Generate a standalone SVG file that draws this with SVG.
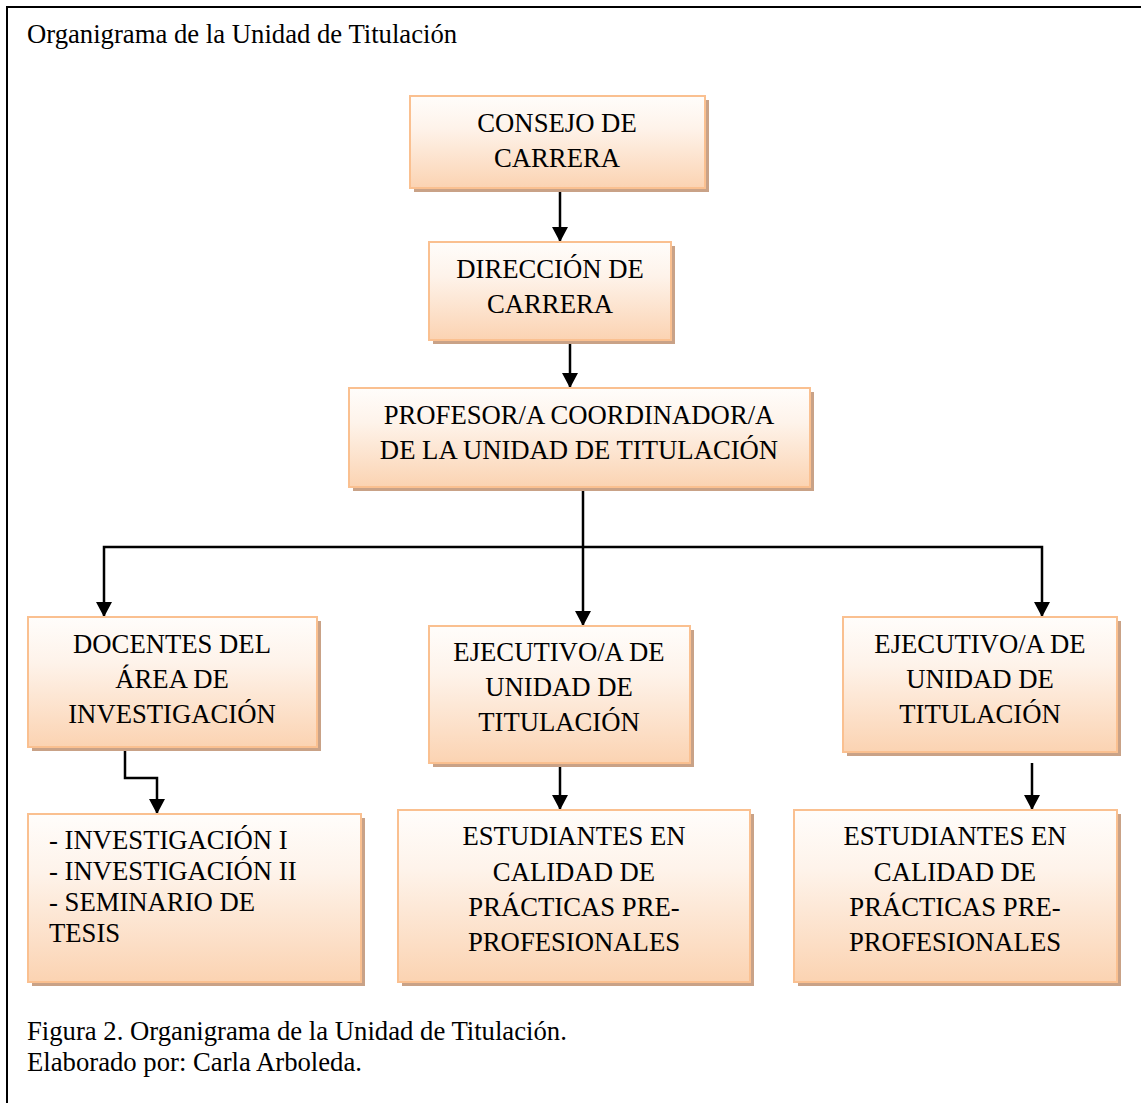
<svg xmlns="http://www.w3.org/2000/svg" width="1141" height="1103" viewBox="0 0 1141 1103">
<defs>
<linearGradient id="g" x1="0" y1="0" x2="0" y2="1">
<stop offset="0" stop-color="#fffdfb"/>
<stop offset="0.35" stop-color="#fef3ea"/>
<stop offset="1" stop-color="#fbd3b2"/>
</linearGradient>
<marker id="ah" markerUnits="userSpaceOnUse" markerWidth="15" markerHeight="16" refX="15" refY="8" orient="auto-start-reverse" viewBox="0 0 15 16">
<path d="M0,0 L15,8 L0,16 Z" fill="#000"/>
</marker>
</defs>
<style>
.sh{fill:#c9a287;}
.bx{fill:url(#g);stroke:#fac090;stroke-width:2;}
.t{font-family:"Liberation Serif","Times New Roman",serif;font-size:26.7px;fill:#000;text-anchor:middle;}
.tl{font-family:"Liberation Serif","Times New Roman",serif;font-size:26.7px;fill:#000;}
.cap{font-family:"Liberation Serif","Times New Roman",serif;font-size:26.7px;fill:#000;}
.c{stroke:#000;stroke-width:2.5;fill:none;}
</style>
<rect x="0" y="0" width="1141" height="1103" fill="#fff"/>
<rect x="7" y="7" width="1160" height="1120" fill="none" stroke="#000" stroke-width="2"/>
<text class="cap" x="27" y="43">Organigrama de la Unidad de Titulación</text>

<g id="connectors">
<line class="c" x1="560" y1="189" x2="560" y2="242" marker-end="url(#ah)"/>
<line class="c" x1="570" y1="341" x2="570" y2="388" marker-end="url(#ah)"/>
<line class="c" x1="583" y1="488" x2="583" y2="626" marker-end="url(#ah)"/>
<polyline class="c" points="104,617 104,547 1042,547 1042,617" marker-start="url(#ah)" marker-end="url(#ah)"/>
<polyline class="c" points="125,748 125,778 157,778 157,814" marker-end="url(#ah)"/>
<line class="c" x1="560" y1="764" x2="560" y2="810" marker-end="url(#ah)"/>
<line class="c" x1="1032" y1="763" x2="1032" y2="810" marker-end="url(#ah)"/>
</g>

<g id="consejo">
<rect class="sh" x="414" y="100" width="295" height="92"/>
<rect class="bx" x="410" y="96" width="295" height="92"/>
<text class="t" x="557" y="132">CONSEJO DE</text>
<text class="t" x="557" y="167">CARRERA</text>
</g>
<g id="direccion">
<rect class="sh" x="433" y="246" width="242" height="98"/>
<rect class="bx" x="429" y="242" width="242" height="98"/>
<text class="t" x="550" y="278">DIRECCIÓN DE</text>
<text class="t" x="550" y="313">CARRERA</text>
</g>
<g id="coordinador">
<rect class="sh" x="353" y="392" width="461" height="99"/>
<rect class="bx" x="349" y="388" width="461" height="99"/>
<text class="t" x="579" y="424">PROFESOR/A COORDINADOR/A</text>
<text class="t" x="579" y="459">DE LA UNIDAD DE TITULACIÓN</text>
</g>
<g id="docentes">
<rect class="sh" x="32" y="621" width="289" height="130"/>
<rect class="bx" x="28" y="617" width="289" height="130"/>
<text class="t" x="172" y="653">DOCENTES DEL</text>
<text class="t" x="172" y="688">ÁREA DE</text>
<text class="t" x="172" y="723">INVESTIGACIÓN</text>
</g>
<g id="ejecutivo1">
<rect class="sh" x="433" y="630" width="261" height="137"/>
<rect class="bx" x="429" y="626" width="261" height="137"/>
<text class="t" x="559" y="661">EJECUTIVO/A DE</text>
<text class="t" x="559" y="696">UNIDAD DE</text>
<text class="t" x="559" y="731">TITULACIÓN</text>
</g>
<g id="ejecutivo2">
<rect class="sh" x="847" y="621" width="274" height="135"/>
<rect class="bx" x="843" y="617" width="274" height="135"/>
<text class="t" x="980" y="653">EJECUTIVO/A DE</text>
<text class="t" x="980" y="688">UNIDAD DE</text>
<text class="t" x="980" y="723">TITULACIÓN</text>
</g>
<g id="materias">
<rect class="sh" x="32" y="818" width="333" height="168"/>
<rect class="bx" x="28" y="814" width="333" height="168"/>
<text class="tl" x="49" y="849">- INVESTIGACIÓN I</text>
<text class="tl" x="49" y="880">- INVESTIGACIÓN II</text>
<text class="tl" x="49" y="911">- SEMINARIO DE</text>
<text class="tl" x="49" y="942">TESIS</text>
</g>
<g id="estudiantes1">
<rect class="sh" x="402" y="814" width="352" height="172"/>
<rect class="bx" x="398" y="810" width="352" height="172"/>
<text class="t" x="574" y="845">ESTUDIANTES EN</text>
<text class="t" x="574" y="881">CALIDAD DE</text>
<text class="t" x="574" y="916">PRÁCTICAS PRE-</text>
<text class="t" x="574" y="951">PROFESIONALES</text>
</g>
<g id="estudiantes2">
<rect class="sh" x="798" y="814" width="323" height="172"/>
<rect class="bx" x="794" y="810" width="323" height="172"/>
<text class="t" x="955" y="845">ESTUDIANTES EN</text>
<text class="t" x="955" y="881">CALIDAD DE</text>
<text class="t" x="955" y="916">PRÁCTICAS PRE-</text>
<text class="t" x="955" y="951">PROFESIONALES</text>
</g>

<text class="cap" x="27" y="1040">Figura 2. Organigrama de la Unidad de Titulación.</text>
<text class="cap" x="27" y="1071">Elaborado por: Carla Arboleda.</text>
</svg>
